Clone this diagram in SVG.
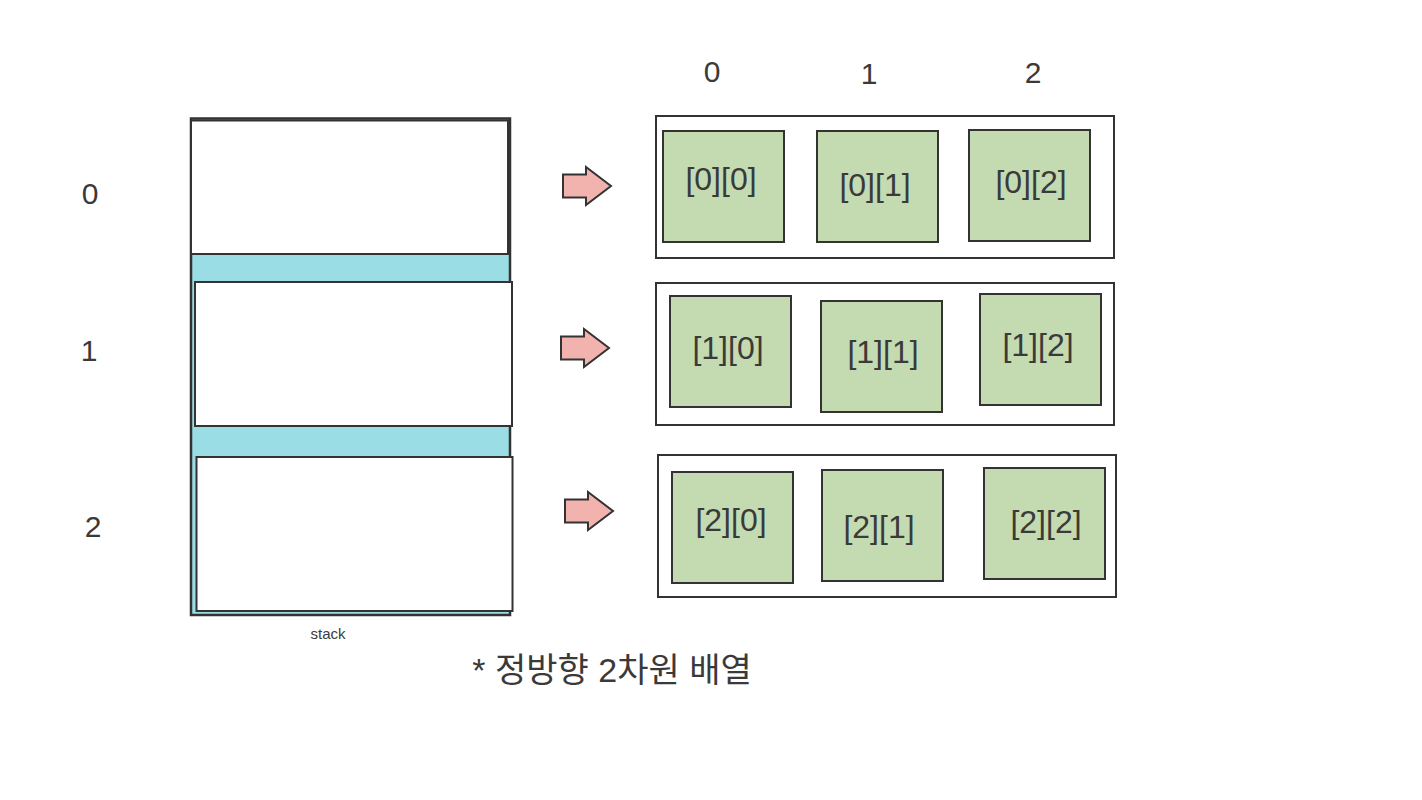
<svg xmlns="http://www.w3.org/2000/svg" width="1422" height="800" viewBox="0 0 1422 800">
<style>
  .t{font-family:"Liberation Sans","Noto Sans CJK KR",sans-serif;fill:#3a3a3a;text-anchor:middle;dominant-baseline:central}
  .big{font-size:30px}
  .lbl{font-size:32px}
  .box{fill:#ffffff;stroke:#333333;stroke-width:2}
  .cell{fill:#c4dbb1;stroke:#333333;stroke-width:2}
  .arrow{fill:#f2b3ae;stroke:#333333;stroke-width:2;stroke-linejoin:miter}
</style>
<defs>
  <path id="arr" d="M0,-11.5 H23 V-19 L48,0 L23,19 V11.5 H0 Z"/>
</defs>
<rect width="1422" height="800" fill="#ffffff"/>

<g id="stack">
  <rect x="191" y="118.5" width="319" height="496.5" fill="#9adde5" stroke="#333333" stroke-width="2.5"/>
  <rect id="stack-0" class="box" x="191" y="120.5" width="317" height="133.5"/>
  <rect id="stack-1" class="box" x="195" y="282" width="317" height="144"/>
  <rect id="stack-2" class="box" x="196.5" y="457" width="316" height="154"/>
  <text class="t" x="328" y="633" font-size="15">stack</text>
</g>

<g id="row-labels">
  <text class="t big" x="90" y="193">0</text>
  <text class="t big" x="89" y="350">1</text>
  <text class="t big" x="93" y="526">2</text>
</g>

<g id="col-labels">
  <text class="t big" x="712" y="71">0</text>
  <text class="t big" x="869" y="73">1</text>
  <text class="t big" x="1033" y="72">2</text>
</g>

<g id="row0">
  <rect class="box" x="656" y="116" width="458" height="142"/>
  <g id="c00"><rect class="cell" x="663" y="131" width="121" height="111"/><text class="t lbl" x="721" y="179">[0][0]</text></g>
  <g id="c01"><rect class="cell" x="817" y="131" width="121" height="111"/><text class="t lbl" x="875" y="185">[0][1]</text></g>
  <g id="c02"><rect class="cell" x="969" y="130" width="121" height="111"/><text class="t lbl" x="1031" y="182">[0][2]</text></g>
</g>

<g id="row1">
  <rect class="box" x="656" y="283" width="458" height="142"/>
  <g id="c10"><rect class="cell" x="670" y="296" width="121" height="111"/><text class="t lbl" x="728" y="348">[1][0]</text></g>
  <g id="c11"><rect class="cell" x="821" y="301" width="121" height="111"/><text class="t lbl" x="883" y="352">[1][1]</text></g>
  <g id="c12"><rect class="cell" x="980" y="294" width="121" height="111"/><text class="t lbl" x="1038" y="345">[1][2]</text></g>
</g>

<g id="row2">
  <rect class="box" x="658" y="455" width="458" height="142"/>
  <g id="c20"><rect class="cell" x="672" y="472" width="121" height="111"/><text class="t lbl" x="731" y="520">[2][0]</text></g>
  <g id="c21"><rect class="cell" x="822" y="470" width="121" height="111"/><text class="t lbl" x="879" y="527">[2][1]</text></g>
  <g id="c22"><rect class="cell" x="984" y="468" width="121" height="111"/><text class="t lbl" x="1046" y="522">[2][2]</text></g>
</g>

<g id="connectors">
  <use href="#arr" class="arrow" transform="translate(563,186)"/>
  <use href="#arr" class="arrow" transform="translate(561,348)"/>
  <use href="#arr" class="arrow" transform="translate(565,511)"/>
</g>

<g id="caption">
  <text class="t" x="612" y="670" font-size="34">* 정방향 2차원 배열</text>
</g>
</svg>
